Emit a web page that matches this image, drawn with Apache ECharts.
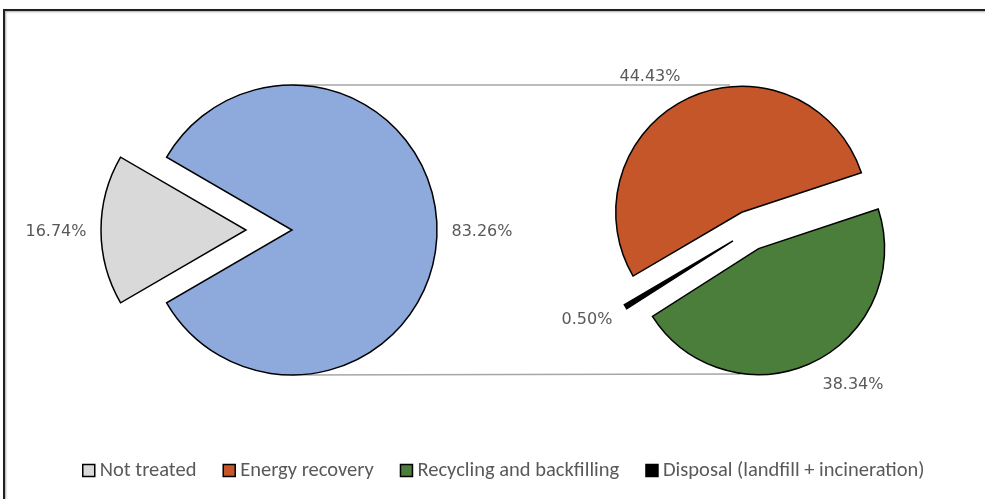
<!DOCTYPE html>
<html>
<head>
<meta charset="utf-8">
<style>
  html, body { margin: 0; padding: 0; background: #ffffff; }
  #chart { width: 985px; height: 499px; }
</style>
<script src="https://cdn.jsdelivr.net/npm/echarts@6/dist/echarts.min.js"></script>
</head>
<body>
<div id="chart"></div>
<script>
// Share of waste treated vs. not treated, and how the treated part is handled
const mainNames = ['Not treated', 'Treated'];
const mainValues = [16.74, 83.26];
const treatedNames = ['Energy recovery', 'Recycling and backfilling', 'Disposal (landfill + incineration)'];
const treatedValues = [44.43, 38.34, 0.50];
const legendNames = ['Not treated', 'Energy recovery', 'Recycling and backfilling', 'Disposal (landfill + incineration)'];

// Layout
const mainCenter = [292, 230];
const mainRadius = 145;
const subCenter = [750, 230.5];
const subRadius = 126;
const mainColors = ['#D9D9D9', '#8EA9DB'];
const subColors = ['#C4562A', '#4B7D3B', '#000000'];

// Value label anchor points (text centre), one list per pie
const mainLabelAnchors = [[56, 232], [482, 232]];
const subLabelAnchors = [[650, 77], [853, 385], [587, 320]];

const chart = echarts.init(document.getElementById('chart'));

// first slice of the left pie is centred on the direction it is pulled out
const mainStart = 180 + (mainValues[0] / mainValues.reduce((a, b) => a + b, 0)) * 180;
const subStart = 210.4;

const sliceBorder = { borderColor: '#000', borderWidth: 1.5, borderJoin: 'miter' };

function valueLabels(values, anchors) {
  return values.map((v, i) => ({
    type: 'text', z: 10, silent: true,
    x: anchors[i][0], y: anchors[i][1],
    style: {
      text: v.toFixed(2) + '%',
      fill: '#595959',
      font: '16px "DejaVu Sans"',
      align: 'center',
      verticalAlign: 'middle'
    }
  }));
}

chart.setOption({
  animation: false,
  legend: {
    data: legendNames,
    left: 82,
    top: 460,
    padding: 0,
    itemWidth: 12,
    itemHeight: 12,
    itemGap: 26,
    icon: 'rect',
    itemStyle: { borderColor: '#000', borderWidth: 1.5 },
    textStyle: { color: '#595959', fontSize: 20.5, fontFamily: 'Carlito, Lato' },
    selectedMode: false
  },
  graphic: [
    {
      type: 'rect', z: 0, silent: true,
      shape: { x: 4, y: 10, width: 1000, height: 520 },
      style: { fill: 'none', stroke: '#1f1f1f', lineWidth: 2, shadowColor: 'rgba(0,0,0,0.35)', shadowBlur: 2, shadowOffsetY: 1, shadowOffsetX: 1 }
    },
    {
      type: 'line', z: 0, silent: true,
      shape: { x1: mainCenter[0], y1: mainCenter[1] - mainRadius, x2: 730, y2: mainCenter[1] - mainRadius },
      style: { stroke: '#A6A6A6', lineWidth: 1.5 }
    },
    {
      type: 'line', z: 0, silent: true,
      shape: { x1: mainCenter[0], y1: mainCenter[1] + mainRadius, x2: 740, y2: mainCenter[1] + mainRadius - 1 },
      style: { stroke: '#A6A6A6', lineWidth: 1.5 }
    }
  ].concat(valueLabels(mainValues, mainLabelAnchors), valueLabels(treatedValues, subLabelAnchors)),
  series: [
    {
      type: 'pie',
      center: mainCenter,
      radius: mainRadius,
      startAngle: mainStart,
      clockwise: true,
      selectedMode: 'multiple',
      selectedOffset: 46,
      emphasis: { disabled: true },
      label: { show: false },
      labelLine: { show: false },
      itemStyle: sliceBorder,
      data: mainNames.map((n, i) => ({
        name: n,
        value: mainValues[i],
        selected: i === 0,
        itemStyle: { color: mainColors[i] }
      }))
    },
    {
      type: 'pie',
      center: subCenter,
      radius: subRadius,
      startAngle: subStart,
      clockwise: true,
      selectedMode: 'multiple',
      selectedOffset: 20,
      emphasis: { disabled: true },
      label: { show: false },
      labelLine: { show: false },
      itemStyle: sliceBorder,
      data: treatedNames.map((n, i) => ({
        name: n,
        value: treatedValues[i],
        selected: true,
        itemStyle: { color: subColors[i] }
      }))
    }
  ]
});
</script>
</body>
</html>
